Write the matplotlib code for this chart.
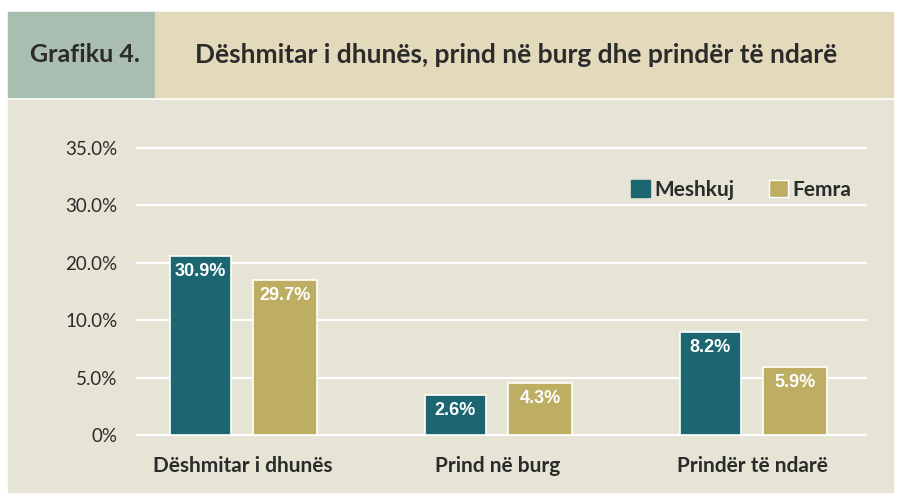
import numpy as np
import matplotlib.pyplot as plt
from matplotlib.patches import Rectangle, Patch

plt.rcParams['font.family'] = ['Lato', 'DejaVu Sans']

categories = ["Dëshmitar i dhunës", "Prind në burg", "Prindër të ndarë"]
meshkuj_labels = [30.9, 2.6, 8.2]
femra_labels = [29.7, 4.3, 5.9]
# bar heights as drawn on the uneven axis of the original
meshkuj_heights = [21.1, 3.45, 8.95]
femra_heights = [17.0, 4.5, 5.9]
tick_values = [0, 5, 10, 20, 30, 35]
tick_labels = ["0%", "5.0%", "10.0%", "20.0%", "30.0%", "35.0%"]

blue = "#1b6671"
gold = "#bdae63"
panel = "#e6e4d4"
dark = "#2b2b2b"

W, H = 901, 497
fig = plt.figure(figsize=(W / 100, H / 100), dpi=100, facecolor="white")

def box(x0, y0, x1, y1, color):
    # pixel coords, y measured from top
    fig.patches.append(Rectangle((x0 / W, 1 - y1 / H), (x1 - x0) / W, (y1 - y0) / H,
                                 transform=fig.transFigure, color=color, zorder=-10))

box(8, 12, 155, 97, "#a9beb1")
box(155, 12, 893, 97, "#e3d9bb")
box(8, 100, 893, 492, panel)

fig.text(85 / W, 1 - 55 / H, "Grafiku 4.", fontsize=18, fontweight="bold",
         color=dark, ha="center", va="center")
fig.text(516 / W, 1 - 55 / H, "Dëshmitar i dhunës, prind në burg dhe prindër të ndarë",
         fontsize=19, fontweight="bold", color=dark, ha="center", va="center")

ax = fig.add_axes([137 / W, 1 - 435 / H, (866 - 137) / W, (435 - 148) / H])
ax.set_facecolor("none")
ax.set_zorder(1)

pos = np.arange(len(tick_values))
ax.set_yscale("function", functions=(lambda v: np.interp(v, tick_values, pos),
                                     lambda p: np.interp(p, pos, tick_values)))
ax.set_ylim(0, 35)

x = np.arange(len(categories))
off = 0.166
b1 = ax.bar(x - off, meshkuj_heights, 0.24, color=blue, edgecolor="white", linewidth=1.2,
            zorder=3, label="Meshkuj")
b2 = ax.bar(x + off, femra_heights, 0.25, color=gold, edgecolor="white", linewidth=1.2,
            zorder=3, label="Femra")

for bars, labels in ((b1, meshkuj_labels), (b2, femra_labels)):
    for rect, lab in zip(bars, labels):
        ax.annotate(f"{lab}%", (rect.get_x() + rect.get_width() / 2, rect.get_height()),
                    xytext=(0, -11), textcoords="offset points", ha="center", va="center",
                    color="white", fontsize=13, fontweight="bold",
                    family=["Liberation Sans", "DejaVu Sans"], zorder=4)

ax.set_xlim(-0.414, 2.445)
ax.set_yticks(tick_values)
ax.set_yticklabels(tick_labels)
ax.set_xticks(x)
ax.set_xticklabels(categories, fontweight="bold", fontsize=15)
ax.tick_params(axis="y", length=0, pad=14, labelsize=13.5, labelcolor=dark)
ax.tick_params(axis="x", length=0, pad=15, labelcolor=dark)
ax.yaxis.grid(True, color="white", linewidth=1.6)
ax.set_axisbelow(True)
for s in ax.spines.values():
    s.set_visible(False)
for gl in ax.get_ygridlines():
    gl.set_clip_on(False)

ax.legend(handles=[Patch(facecolor=blue, edgecolor=blue), Patch(facecolor=gold, edgecolor="white")],
          labels=["Meshkuj", "Femra"], ncol=2, frameon=False,
          loc="center left", bbox_to_anchor=((631 - 137) / (866 - 137), (435 - 190) / (435 - 148)),
          prop={"weight": "bold", "size": 15}, handlelength=0.9, handleheight=0.9,
          handletextpad=0.2, columnspacing=1.7, borderpad=0, borderaxespad=0,
          labelcolor=dark)

fig.savefig("out.png", dpi=100, facecolor="white")
